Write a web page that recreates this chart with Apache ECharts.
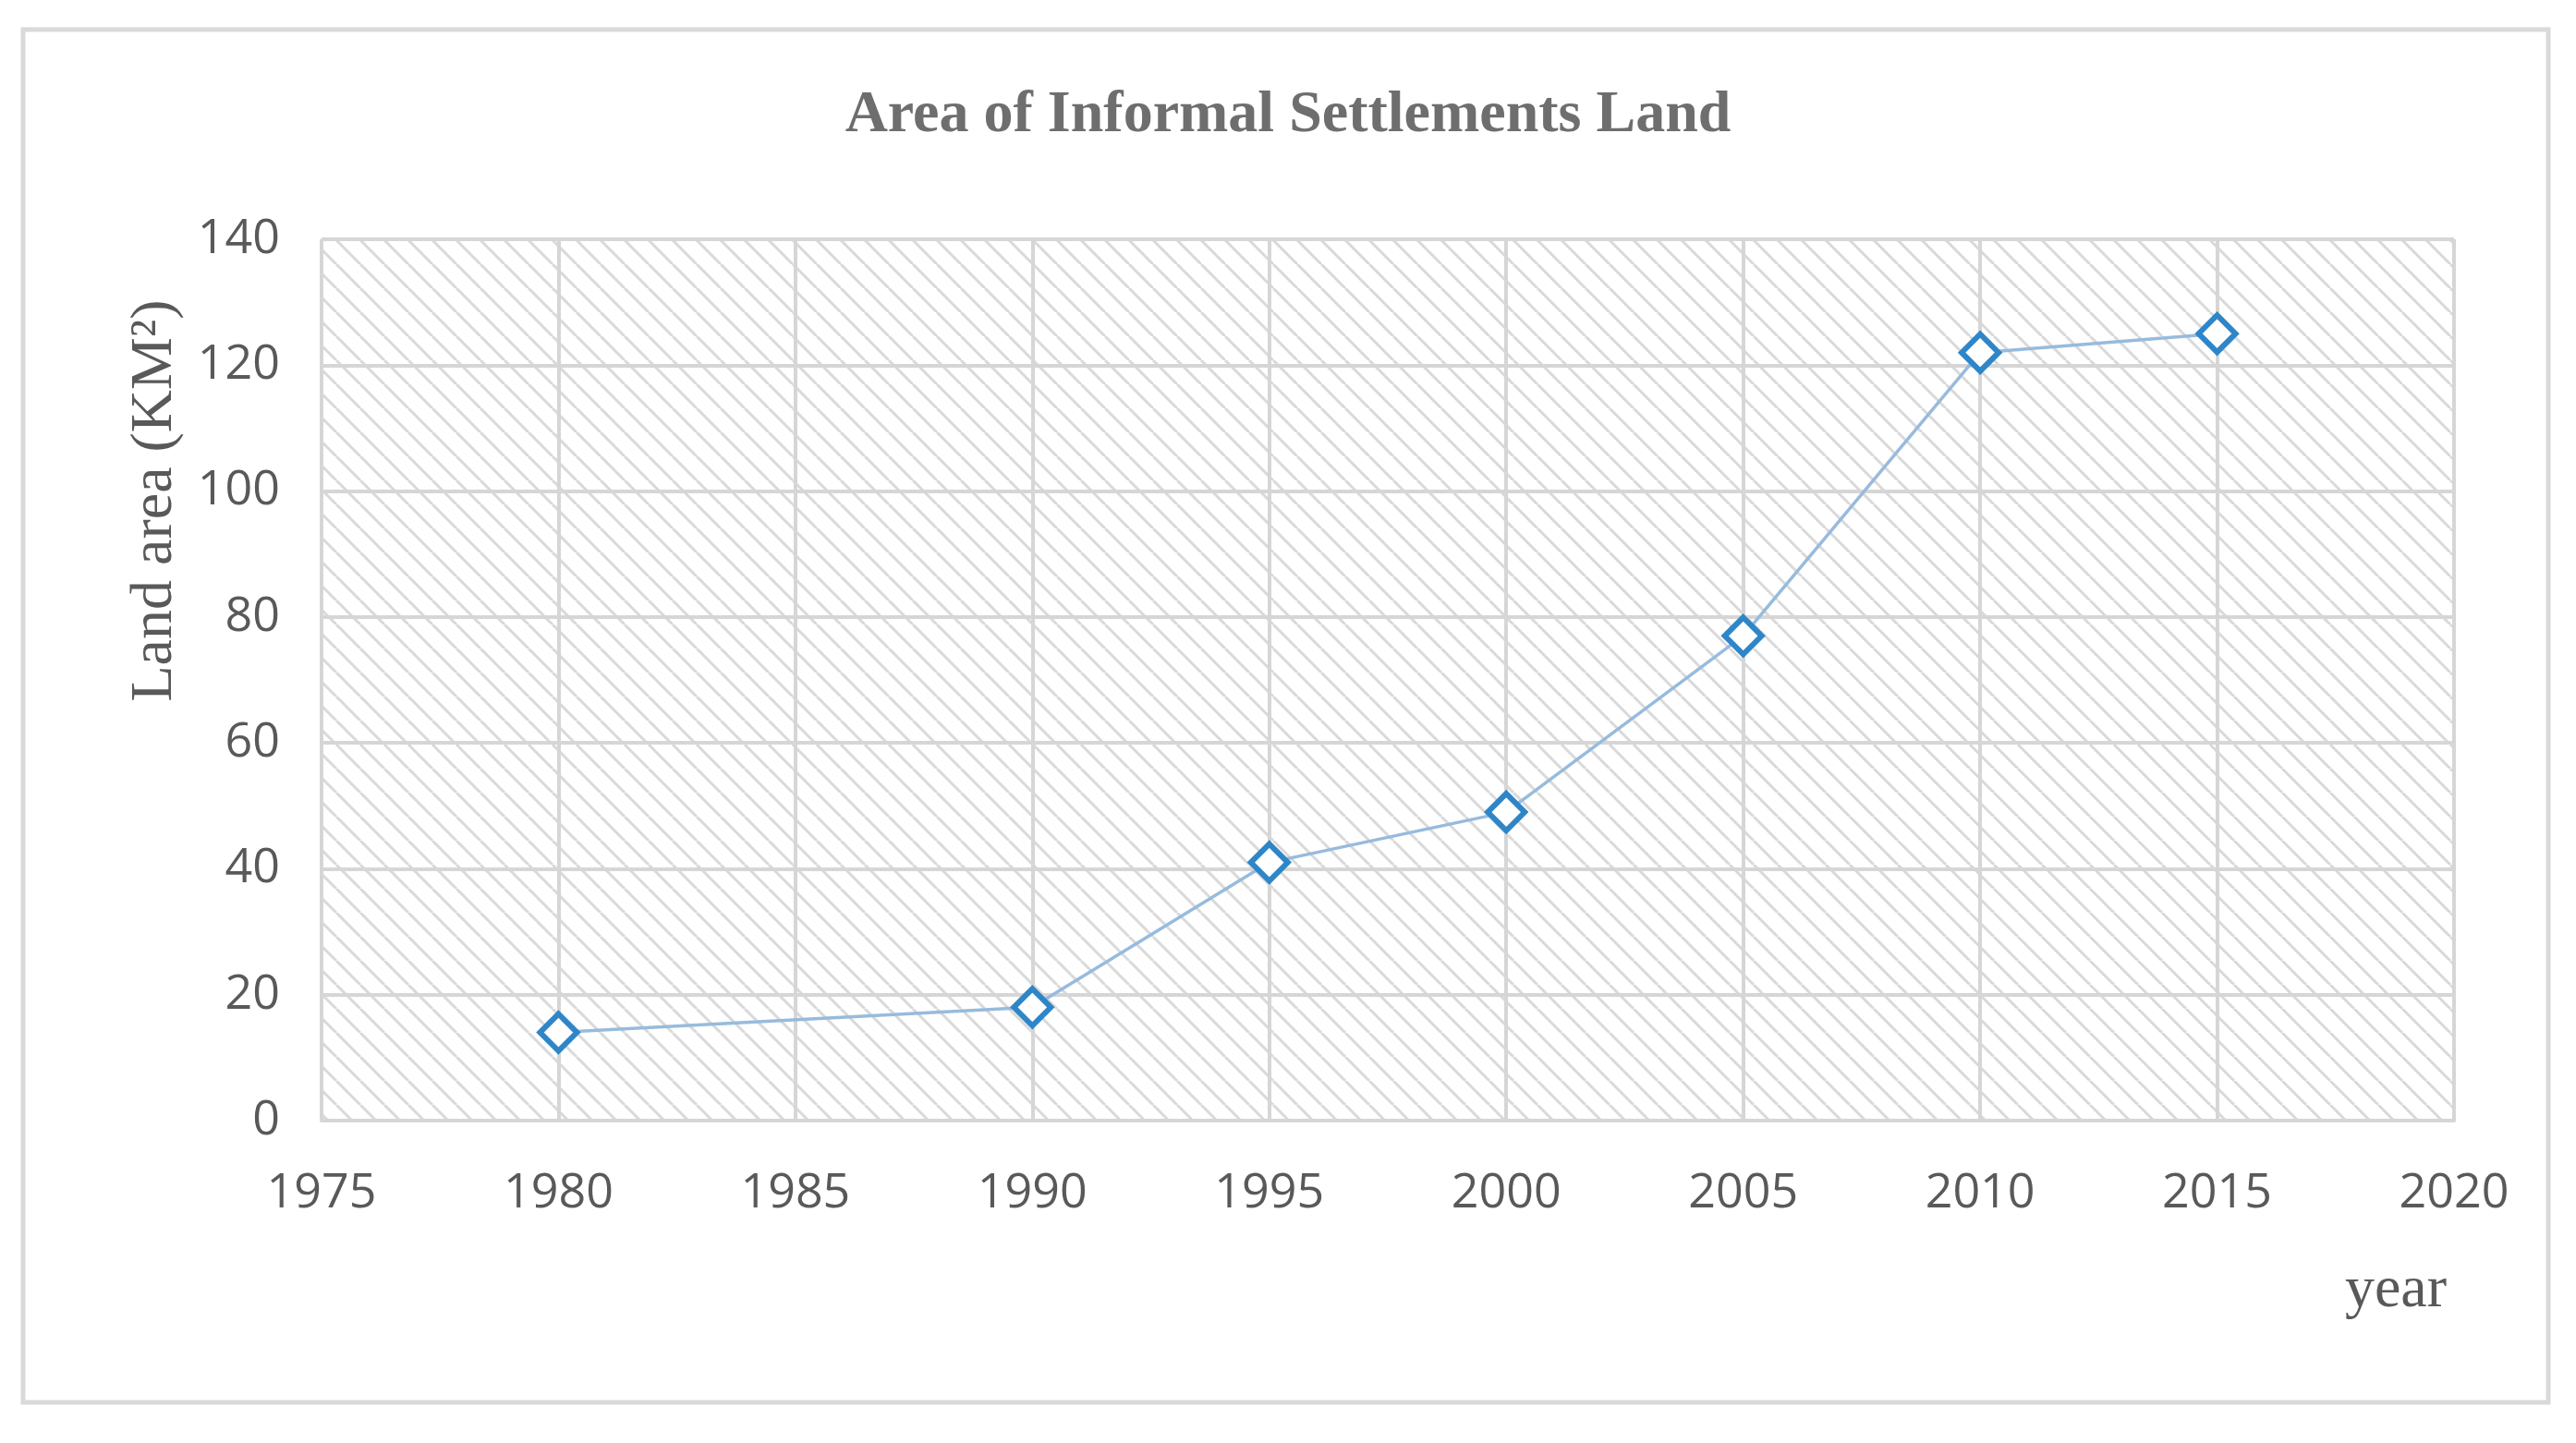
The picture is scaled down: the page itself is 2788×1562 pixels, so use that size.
<!DOCTYPE html>
<html>
<head>
<meta charset="utf-8">
<script src="https://cdn.jsdelivr.net/npm/echarts@6/dist/echarts.min.js"></script>
<style>
html,body{margin:0;padding:0;background:#fff;}
#chart{width:2788px;height:1562px;}
</style>
</head>
<body>
<div id="chart"></div>
<script>
const titleText = 'Area of Informal Settlements Land';
const yAxisName = 'Land area (KM\u00B2)';
const xAxisName = 'year';
const years = [1980, 1990, 1995, 2000, 2005, 2010, 2015];
const landArea = [14, 18, 41, 49, 77, 122, 125];
const xTicks = [1975, 1980, 1985, 1990, 1995, 2000, 2005, 2010, 2015, 2020];
const yTicks = [0, 20, 40, 60, 80, 100, 120, 140];

// hatch pattern
const s = 26;
const pc = document.createElement('canvas');
pc.width = s; pc.height = s;
const ctx = pc.getContext('2d');
ctx.fillStyle = '#ffffff';
ctx.fillRect(0, 0, s, s);
ctx.strokeStyle = '#d9d9d9';
ctx.lineWidth = 3;
ctx.beginPath();
[-s, 0, s].forEach(k => { ctx.moveTo(k, 0); ctx.lineTo(k + s, s); });
ctx.stroke();

const serif = '"Liberation Serif", "DejaVu Serif", serif';
const sans = '"Open Sans", "Liberation Sans", sans-serif';
const textColor = '#595959';
const gridColor = '#d6d6d6';

const chart = echarts.init(document.getElementById('chart'));
chart.setOption({
  backgroundColor: '#ffffff',
  animation: false,
  title: {
    text: titleText,
    left: 'center',
    top: 88,
    textStyle: { fontFamily: serif, fontSize: 64, fontWeight: 'bold', color: '#6e6e6e' }
  },
  graphic: [{
    type: 'rect',
    shape: { x: 25, y: 32, width: 2733, height: 1486 },
    style: { fill: 'none', stroke: '#d9d9d9', lineWidth: 5 },
    silent: true
  }],
  grid: {
    left: 348, right: 132, top: 259, bottom: 349,
    show: true,
    backgroundColor: { image: pc, repeat: 'repeat' },
    borderWidth: 0
  },
  xAxis: {
    type: 'value',
    min: xTicks[0], max: xTicks[xTicks.length - 1], interval: 5,
    name: xAxisName,
    nameLocation: 'end',
    nameGap: -8,
    nameTextStyle: { fontFamily: serif, fontSize: 64, color: textColor, align: 'right', verticalAlign: 'top', padding: [152, 0, 0, 0] },
    axisLine: { show: true, lineStyle: { color: gridColor, width: 4 } },
    axisTick: { show: false },
    axisLabel: { margin: 53, fontFamily: sans, fontSize: 52, color: textColor, formatter: v => String(v) },
    splitLine: { show: true, lineStyle: { color: gridColor, width: 4 } }
  },
  yAxis: {
    type: 'value',
    min: yTicks[0], max: yTicks[yTicks.length - 1], interval: 20,
    name: yAxisName,
    nameLocation: 'middle',
    nameRotate: 90,
    nameGap: 148,
    nameTextStyle: { fontFamily: serif, fontSize: 64, color: textColor, padding: [0, 0, 0, 388] },
    axisLine: { show: false },
    axisTick: { show: false },
    axisLabel: { margin: 45, fontFamily: sans, fontSize: 52, color: textColor },
    splitLine: { show: true, lineStyle: { color: gridColor, width: 4 } }
  },
  series: [{
    type: 'line',
    data: years.map((y, i) => [y, landArea[i]]),
    symbol: 'diamond',
    symbolSize: 40,
    showAllSymbol: true,
    lineStyle: { color: '#97bbdd', width: 3.5 },
    itemStyle: { color: '#ffffff', borderColor: '#2e86c8', borderWidth: 6 },
    z: 5
  }]
});
</script>
</body>
</html>
